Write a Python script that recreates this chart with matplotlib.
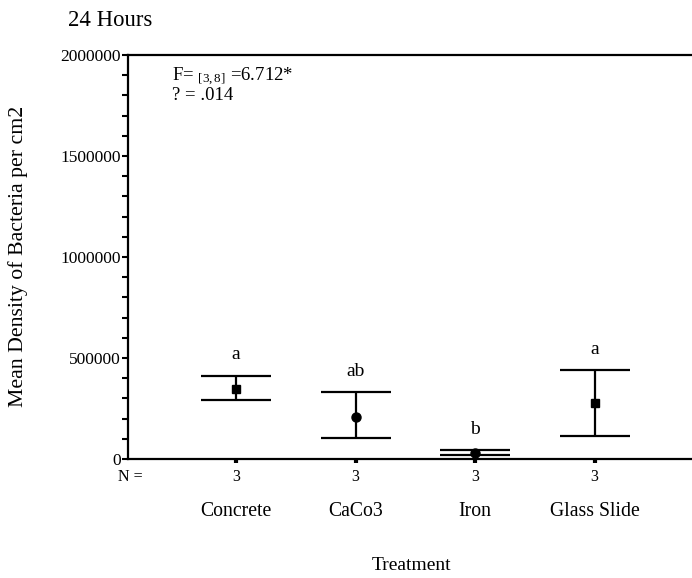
import matplotlib
matplotlib.use("Agg")
import matplotlib.pyplot as plt
import matplotlib.transforms as mtransforms
import numpy as np

# ---- data ----
categories = ["Concrete", "CaCo3", "Iron", "Glass Slide"]
n_values = [3, 3, 3, 3]
means = [346500, 209500, 31000, 275500]
ci_lower = [293500, 105500, 19800, 114000]
ci_upper = [412000, 331500, 44500, 440500]
markers = ["s", "o", "o", "s"]
letters = ["a", "ab", "b", "a"]
yticks = [0, 500000, 1000000, 1500000, 2000000]
ytick_labels = ["0", "500000", "1000000", "1500000", "2000000"]

plt.rcParams["font.family"] = ["Liberation Serif", "DejaVu Serif"]
plt.rcParams["mathtext.fontset"] = "custom"
plt.rcParams["mathtext.rm"] = "Liberation Serif"
plt.rcParams["mathtext.it"] = "Liberation Serif:italic"

fig = plt.figure(figsize=(6.92, 5.78), dpi=100)
ax = fig.add_axes([128 / 692, (578 - 459) / 578, (692 - 128) / 692, (459 - 55) / 578])

x = np.arange(1, len(categories) + 1)
for xi, m, lo, hi, mk in zip(x, means, ci_lower, ci_upper, markers):
    ax.errorbar([xi], [m], yerr=[[m - lo], [hi - m]], fmt=mk, color="black",
                ecolor="black", elinewidth=1.6, capsize=25, capthick=1.6,
                markersize=6.5 if mk == "o" else 6)

for xi, hi, lt in zip(x, ci_upper, letters):
    ax.annotate(lt, xy=(xi, hi), xytext=(0, 9), textcoords="offset points",
                ha="center", va="bottom", fontsize=14)

ax.set_xlim(1 - 108 / 119.5, 4 + 97.5 / 119.5)
ax.set_ylim(0, 2000000)
ax.set_yticks(yticks)
ax.set_yticklabels(ytick_labels, fontsize=12.5)
ax.set_yticks(np.arange(0, 2000001, 100000), minor=True)
ax.tick_params(axis="y", which="both", direction="out", length=4, width=1.5, pad=1)

ax.set_xticks(x)
ax.set_xticklabels([str(v) for v in n_values], fontsize=11.5)
ax.tick_params(axis="x", direction="out", length=3, width=3, pad=4)

for s in ["left", "bottom", "top"]:
    ax.spines[s].set_linewidth(1.6)
ax.spines["right"].set_visible(False)

trans = mtransforms.blended_transform_factory(ax.transData, ax.transAxes)
off = mtransforms.ScaledTranslation(0, -52 / 100, fig.dpi_scale_trans)
for xi, c in zip(x, categories):
    ax.text(xi, 0, c, transform=trans + off, ha="center", va="center", fontsize=14.2)

fig.text(130 / 692, 1 - 477 / 578, "N =", ha="center", va="center", fontsize=11.5)
fig.text(411 / 692, 1 - 565 / 578, "Treatment", ha="center", va="center", fontsize=14)
fig.text(18 / 692, 1 - 256 / 578, "Mean Density of Bacteria per cm2", rotation=90,
         ha="center", va="center", fontsize=15.7)
fig.text(68 / 692, 1 - 20 / 578, "24 Hours", ha="left", va="center", fontsize=16.4)

ax.text((172 - 128) / 564, 1 - (77 - 55) / 404,
        r"F= $_{[3,8]}$ =6.712*", transform=ax.transAxes, ha="left", va="center", fontsize=13.5)
ax.text((172 - 128) / 564, 1 - (95 - 55) / 404,
        "? = .014", transform=ax.transAxes, ha="left", va="center", fontsize=13.5)

fig.savefig("out.png", dpi=100)
